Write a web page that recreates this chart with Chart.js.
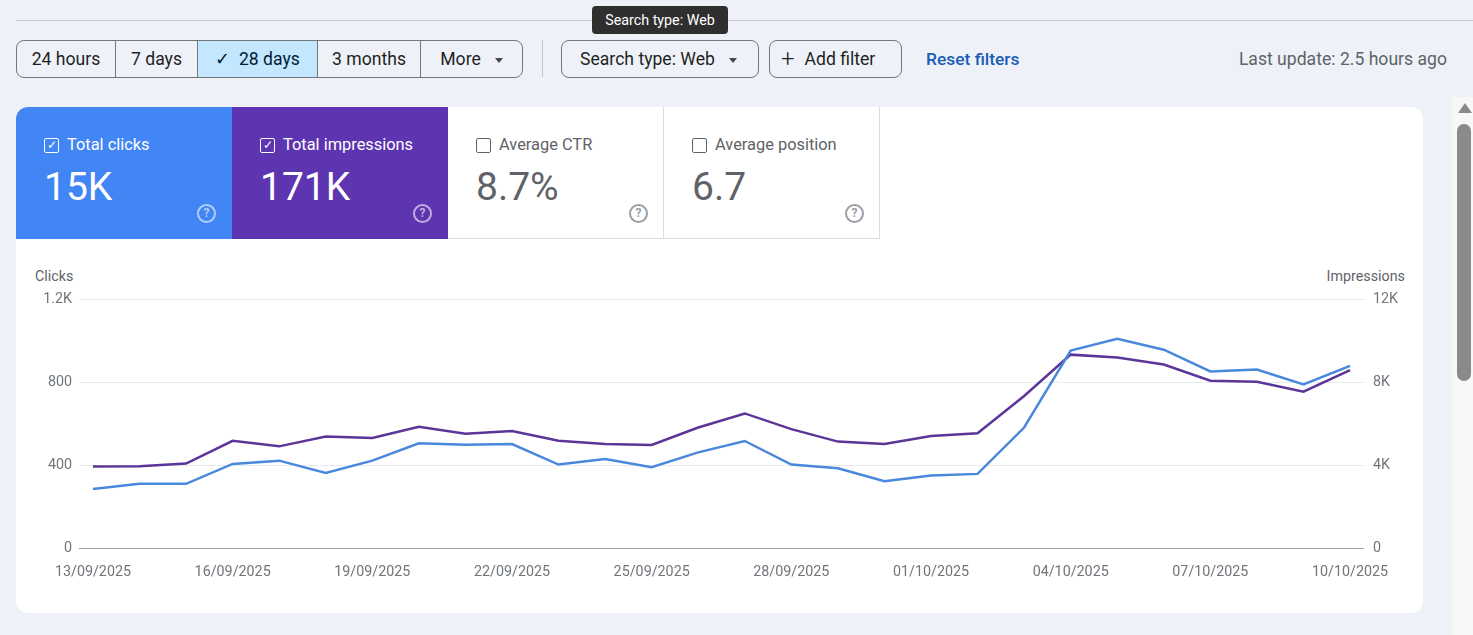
<!DOCTYPE html>
<html>
<head>
<meta charset="utf-8">
<script src="https://cdn.jsdelivr.net/npm/chart.js@4"></script>
<style>
  html, body { margin: 0; padding: 0; }
  body { width: 1473px; height: 635px; background: #eef2f8; font-family: Roboto, "Noto Sans", sans-serif; position: relative; overflow: hidden; color: #1f1f1f; }
  .abs { position: absolute; }
  .topline { left: 16px; right: 0; top: 20px; height: 1px; background: #c4c7c5; }
  .tip { left: 592px; top: 6px; width: 136px; height: 28px; background: #2f2f2f; color: #fff; border-radius: 4px; font-size: 14.3px; line-height: 28px; text-align: center; }
  .seg { left: 16px; top: 40px; width: 505px; height: 36px; border: 1px solid #747775; border-radius: 8px; overflow: hidden; display: flex; }
  .seg div { height: 36px; line-height: 36px; font-size: 17.6px; text-align: center; border-right: 1px solid #747775; box-sizing: border-box; }
  .seg div:last-child { border-right: none; }
  .seg .on { background: #c2e7ff; color: #001d35; }
  .btn { top: 40px; height: 36px; border: 1px solid #747775; border-radius: 8px; font-size: 17.6px; line-height: 36px; white-space: nowrap; }
  .caret { display: inline-block; width: 0; height: 0; border-left: 4px solid transparent; border-right: 4px solid transparent; border-top: 5px solid #444746; vertical-align: middle; margin-left: 14px; }
  .sep { left: 542px; top: 40px; width: 1px; height: 37px; background: #c4c7c5; }
  .link { left: 926px; top: 40px; line-height: 38px; font-size: 17.4px; color: #1a5cb8; font-weight: 500; }
  .upd { right: 26px; top: 40px; line-height: 38px; font-size: 17.6px; color: #5f6368; }
  .card { left: 16px; top: 107px; width: 1407px; height: 506px; background: #fff; border-radius: 12px; overflow: hidden; }
  .tile { top: 0; width: 216px; height: 132px; box-sizing: border-box; }
  .tile .lab { position: absolute; left: 28px; top: 28px; font-size: 16.4px; white-space: nowrap; }
  .tile .box { position: absolute; left: 28px; top: 31px; width: 13px; height: 13px; border: 1.5px solid; border-radius: 2px; font-size: 12px; line-height: 13px; text-align: center; }
  .tile .lab span { margin-left: 23px; }
  .tile .val { position: absolute; left: 28px; top: 57px; font-size: 39px; }
  .tile .help { position: absolute; left: 181px; top: 97px; width: 15px; height: 15px; border: 2px solid; border-radius: 50%; font-size: 12px; font-weight: 700; line-height: 15px; text-align: center; }
  .white { border-right: 1px solid #dadce0; border-bottom: 1px solid #dadce0; color: #5f6368; }
  .axlab { font-size: 14.3px; color: #5f6368; top: 268px; }
  .track { left: 1452px; top: 97px; width: 21px; height: 538px; background: #f7f7f7; }
  .thumb { left: 1457px; top: 124px; width: 14px; height: 257px; background: #8a8a8a; border-radius: 7px; }
  .arrow { left: 1458px; top: 103px; width: 0; height: 0; border-left: 7px solid transparent; border-right: 7px solid transparent; border-bottom: 10px solid #8a8a8a; }
  #wrap { position: absolute; left: 30px; top: 282px; width: 1390px; height: 308px; }
</style>
</head>
<body>
<div class="abs topline"></div>
<div class="abs tip">Search type: Web</div>

<div class="abs seg">
  <div style="width:99px">24 hours</div>
  <div style="width:82px">7 days</div>
  <div class="on" style="width:120px">&#10003;&nbsp; 28 days</div>
  <div style="width:103px">3 months</div>
  <div style="width:101px">More<span class="caret"></span></div>
</div>
<div class="abs sep"></div>
<div class="abs btn" style="left:561px;width:196px;"><span style="margin-left:18px">Search type: Web</span><span class="caret"></span></div>
<div class="abs btn" style="left:769px;width:131px;"><span style="margin-left:11px;font-size:24px;font-weight:300;vertical-align:top">+</span><span style="margin-left:10px">Add filter</span></div>
<div class="abs link">Reset filters</div>
<div class="abs upd">Last update: 2.5 hours ago</div>

<div class="abs card">
  <div class="abs tile" style="left:0;background:#4285f4;color:#fff;">
    <div class="box" style="border-color:#fff">&#10003;</div>
    <div class="lab"><span>Total clicks</span></div>
    <div class="val">15K</div>
    <div class="help" style="border-color:rgba(255,255,255,0.6);color:rgba(255,255,255,0.6)">?</div>
  </div>
  <div class="abs tile" style="left:216px;background:#5e35b1;color:#fff;">
    <div class="box" style="border-color:#fff">&#10003;</div>
    <div class="lab"><span>Total impressions</span></div>
    <div class="val">171K</div>
    <div class="help" style="border-color:rgba(255,255,255,0.6);color:rgba(255,255,255,0.6)">?</div>
  </div>
  <div class="abs tile white" style="left:432px;">
    <div class="box" style="border-color:#5f6368"></div>
    <div class="lab"><span>Average CTR</span></div>
    <div class="val">8.7%</div>
    <div class="help" style="border-color:#9aa0a6;color:#9aa0a6">?</div>
  </div>
  <div class="abs tile white" style="left:648px;">
    <div class="box" style="border-color:#5f6368"></div>
    <div class="lab"><span>Average position</span></div>
    <div class="val">6.7</div>
    <div class="help" style="border-color:#9aa0a6;color:#9aa0a6">?</div>
  </div>
</div>

<div class="abs axlab" style="left:35px;">Clicks</div>
<div class="abs axlab" style="right:68px;">Impressions</div>

<div id="wrap"><canvas id="chart"></canvas></div>

<div class="abs track"></div>
<div class="abs arrow"></div>
<div class="abs thumb"></div>

<script>
var dates = ['13/09/2025', '14/09/2025', '15/09/2025', '16/09/2025', '17/09/2025', '18/09/2025', '19/09/2025',
    '20/09/2025', '21/09/2025', '22/09/2025', '23/09/2025', '24/09/2025', '25/09/2025', '26/09/2025',
    '27/09/2025', '28/09/2025', '29/09/2025', '30/09/2025', '01/10/2025', '02/10/2025', '03/10/2025',
    '04/10/2025', '05/10/2025', '06/10/2025', '07/10/2025', '08/10/2025', '09/10/2025', '10/10/2025'];
var clicks = [285, 310, 310, 406, 422, 362, 422, 506, 499, 502, 403, 430, 390, 462,
    517, 403, 385, 323, 350, 358, 582, 954, 1011, 958, 853, 862, 790, 880];
var impressions = [3940, 3950, 4080, 5180, 4910, 5380, 5310, 5860, 5520, 5650, 5180, 5020, 4980, 5820,
    6500, 5740, 5140, 5020, 5410, 5540, 7340, 9340, 9200, 8860, 8080, 8030, 7550, 8590];
var dateTicks = [0, 3, 6, 9, 12, 15, 18, 21, 24, 27];
var clickTicks = [0, 400, 800, 1200];
var imprTicks = [0, 4000, 8000, 12000];

function kfmt(v) {
    return v >= 1000 ? (v / 1000) + 'K' : String(v);
}

var tickFont = { family: 'Roboto', size: 14.3 };
var ctx = document.getElementById('chart').getContext('2d');
var chart = new Chart(ctx, {
    type: 'line',
    data: {
        datasets: [{
            label: 'Clicks',
            data: clicks.map(function (v, i) { return { x: i, y: v }; }),
            borderColor: '#4a88dc',
            borderWidth: 2.5,
            pointRadius: 0,
            tension: 0,
            yAxisID: 'y'
        }, {
            label: 'Impressions',
            data: impressions.map(function (v, i) { return { x: i, y: v }; }),
            borderColor: '#5b3597',
            borderWidth: 2.5,
            pointRadius: 0,
            tension: 0,
            yAxisID: 'y1'
        }]
    },
    options: {
        responsive: true,
        maintainAspectRatio: false,
        animation: false,
        layout: { padding: { top: 10 } },
        plugins: {
            legend: { display: false },
            tooltip: { enabled: false }
        },
        scales: {
            x: {
                type: 'linear',
                min: -0.3,
                max: 27.3,
                afterBuildTicks: function (axis) {
                    axis.ticks = dateTicks.map(function (v) { return { value: v }; });
                },
                afterFit: function (axis) { axis.height = 42; },
                grid: { display: false, drawTicks: false },
                border: { display: false },
                ticks: {
                    autoSkip: false,
                    maxRotation: 0,
                    padding: 16,
                    color: '#70757a',
                    font: tickFont,
                    callback: function (v) { return dates[v]; }
                }
            },
            y: {
                position: 'left',
                min: 0,
                max: 1200,
                afterBuildTicks: function (axis) {
                    axis.ticks = clickTicks.map(function (v) { return { value: v }; });
                },
                afterFit: function (axis) { axis.width = 49; },
                border: { display: false },
                grid: {
                    drawTicks: false,
                    lineWidth: 1,
                    color: function (c) { return c.tick && c.tick.value === 0 ? '#9aa0a6' : '#e8eaed'; }
                },
                ticks: {
                    padding: 7,
                    color: '#70757a',
                    font: tickFont,
                    callback: function (v) { return kfmt(v); }
                }
            },
            y1: {
                position: 'right',
                min: 0,
                max: 12000,
                afterBuildTicks: function (axis) {
                    axis.ticks = imprTicks.map(function (v) { return { value: v }; });
                },
                afterFit: function (axis) { axis.width = 56; },
                border: { display: false },
                grid: { display: false, drawTicks: false },
                ticks: {
                    padding: 9,
                    color: '#70757a',
                    font: tickFont,
                    callback: function (v) { return kfmt(v); }
                }
            }
        }
    }
});
</script>
</body>
</html>
